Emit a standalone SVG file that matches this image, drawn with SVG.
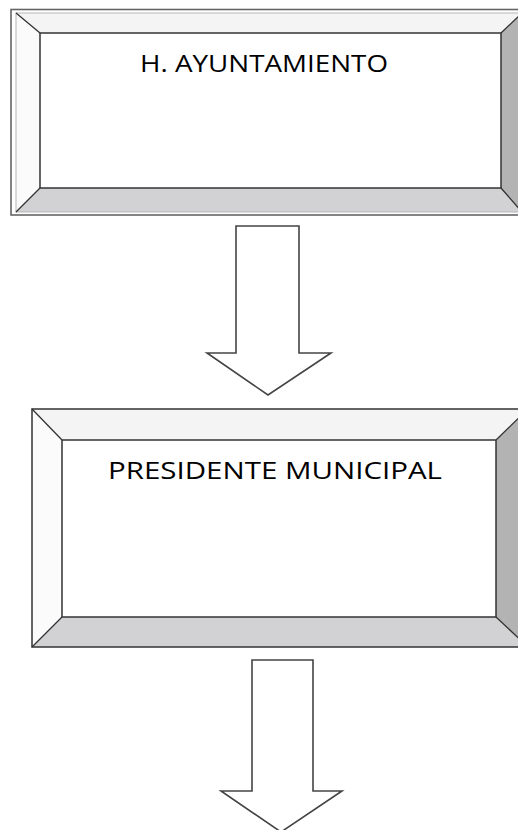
<svg xmlns="http://www.w3.org/2000/svg" width="518" height="830" viewBox="0 0 518 830">
  <style>
    .face { fill: #ffffff; stroke: #333333; stroke-width: 1.5; }
    .bev-top { fill: #f4f4f4; }
    .bev-left { fill: #fbfbfb; }
    .bev-bottom { fill: #d2d2d5; }
    .bev-right { fill: #b3b3b3; }
    .diag { stroke: #333333; stroke-width: 1.3; fill: none; }
    .label { font-family: "Open Sans", "Liberation Sans", sans-serif; font-size: 24.5px; fill: #000000; }
    .arrow { fill: #ffffff; stroke: #444444; stroke-width: 1.6; stroke-linejoin: miter; }
  </style>
  <rect width="518" height="830" fill="#ffffff"/>

  <g id="node-ayuntamiento">
    <polygon class="bev-top" points="16,13 522,13 501,33 40,33"/>
    <polygon class="bev-left" points="16,13 40,33 40,188 16,212"/>
    <polygon class="bev-bottom" points="16,212 40,188 501,188 522,212"/>
    <polygon class="bev-right" points="522,13 501,33 501,188 522,212"/>
    <rect x="16" y="13" width="506" height="199" fill="none" stroke="#b5b5b5" stroke-width="1"/>
    <rect class="face" x="40" y="33" width="461" height="155"/>
    <path class="diag" d="M16,13 L40,33 M522,13 L501,33 M16,212 L40,188 M522,212 L501,188"/>
    <rect x="11" y="9.5" width="512" height="205.5" fill="none" stroke="#666666" stroke-width="1.6"/>
    <text class="label" x="140" y="72" textLength="248" lengthAdjust="spacingAndGlyphs">H. AYUNTAMIENTO</text>
  </g>

  <g id="node-presidente">
    <polygon class="bev-top" points="32,409 528,409 496,440 62,440"/>
    <polygon class="bev-left" points="32,409 62,440 62,617 32,647"/>
    <polygon class="bev-bottom" points="32,647 62,617 496,617 528,647"/>
    <polygon class="bev-right" points="528,409 496,440 496,617 528,647"/>
    <rect x="32" y="409" width="496" height="238" fill="none" stroke="#333333" stroke-width="1.5"/>
    <rect class="face" x="62" y="440" width="434" height="177"/>
    <path class="diag" d="M32,409 L62,440 M528,409 L496,440 M32,647 L62,617 M528,647 L496,617"/>
    <text class="label" x="108" y="479" textLength="334" lengthAdjust="spacingAndGlyphs">PRESIDENTE MUNICIPAL</text>
  </g>

  <g id="connectors">
    <polygon class="arrow" points="236,226 299,226 299,353 331,353 268,395 207,353 236,353"/>
    <polygon class="arrow" points="252,660 313,660 313,791 342,791 281,832 221,791 252,791"/>
  </g>
</svg>
